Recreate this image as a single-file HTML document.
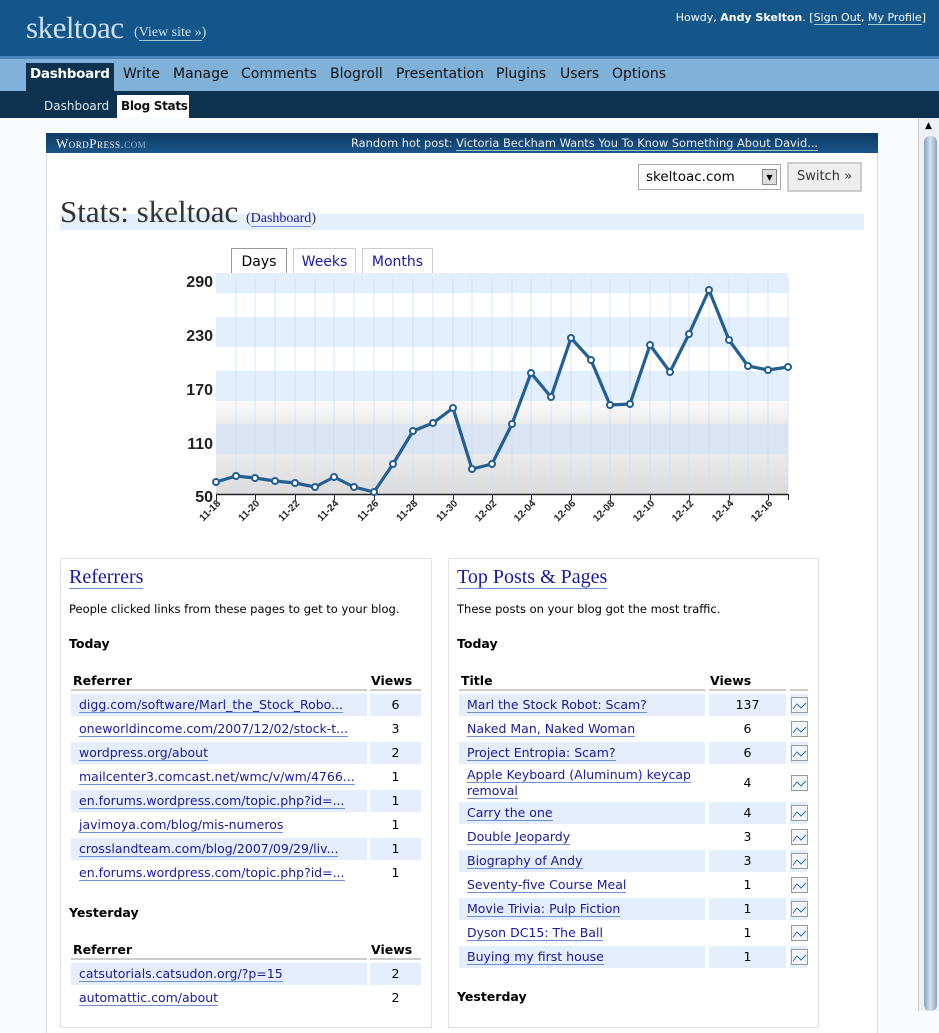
<!DOCTYPE html>
<html><head><meta charset="utf-8">
<style>
*{margin:0;padding:0;box-sizing:border-box}
body{width:939px;height:1011px;overflow:hidden;background:#f9fcfe;font-family:"DejaVu Sans","Liberation Sans",sans-serif;font-size:12px;color:#000;position:relative}
.a{position:absolute}
a,.lk{color:#1a1a9a;text-decoration:none;border-bottom:1px solid #6f8fd0}
.row{position:absolute;height:22px;line-height:22px;font-size:12.5px;white-space:nowrap}
.b{background:#e4eefd}
.nv{position:absolute;top:66px;font-size:14px;color:#111}
</style></head><body>
<!-- header -->
<div class="a" style="left:0;top:0;width:939px;height:56px;background:#14568a"></div>
<div class="a" style="left:0;top:56px;width:939px;height:3px;background:#4b87bd"></div>
<div class="a" style="left:0;top:59px;width:939px;height:32px;background:#80b2d9"></div>
<div class="a" style="left:0;top:91px;width:939px;height:27px;background:#0d324f"></div>
<div class="a" style="left:26px;top:10px;font-family:'Liberation Serif',serif;font-size:31px;color:#cfe1f2;letter-spacing:-0.5px">skeltoac</div>
<div class="a" style="left:134px;top:25px;font-family:'Liberation Serif',serif;font-size:14px;color:#cfe1f2">(<span style="border-bottom:1px solid #9cc">View site »</span>)</div>
<div class="a" style="right:13px;top:11px;font-size:11px;color:#fff">Howdy, <b>Andy Skelton</b>. [<span style="border-bottom:1px solid #9cc">Sign Out</span>, <span style="border-bottom:1px solid #9cc">My Profile</span>]</div>
<div class="a" style="left:26px;top:63px;width:88px;height:28px;background:#0d324f"></div>
<div class="a" style="left:30px;top:66px;font-size:13.5px;color:#fff;font-weight:bold;letter-spacing:-0.3px">Dashboard</div>
<div class="nv" style="left:123px">Write</div>
<div class="nv" style="left:173px">Manage</div>
<div class="nv" style="left:241px">Comments</div>
<div class="nv" style="left:330px">Blogroll</div>
<div class="nv" style="left:396px">Presentation</div>
<div class="nv" style="left:496px">Plugins</div>
<div class="nv" style="left:560px">Users</div>
<div class="nv" style="left:612px">Options</div>
<div class="a" style="left:117px;top:95px;width:72px;height:23px;background:#fff"></div>
<div class="a" style="left:44px;top:99px;font-size:12px;color:#ddeaf5">Dashboard</div>
<div class="a" style="left:121px;top:99px;font-size:12px;color:#111;font-weight:bold;letter-spacing:-0.3px">Blog Stats</div>
<!-- scrollbar -->
<div class="a" style="left:918px;top:118px;width:21px;height:893px;background:#eef0f3;border-left:1px solid #ccc"></div>
<div class="a" style="left:924px;top:136px;width:13px;height:875px;border-radius:6px;background:linear-gradient(90deg,#8aa2bd,#d7e3f0,#8aa2bd)"></div>
<div class="a" style="left:925px;top:121px;font-size:9px">▲</div>
<!-- content box -->
<div class="a" style="left:46px;top:133px;width:832px;height:900px;background:#fff;border-left:1px solid #ddd;border-right:1px solid #ddd"></div>
<div class="a" style="left:46px;top:133px;width:832px;height:20px;background:linear-gradient(#0f3a63,#1a5588)"></div>
<div class="a" style="left:56px;top:136px;font-family:'Liberation Serif',serif;font-size:13px;color:#fff;font-variant:small-caps;letter-spacing:0.5px">WordPress<span style="color:#8fb2d4">.com</span></div>
<div class="a" style="left:351px;top:136px;font-size:11.4px;color:#e8eef5;white-space:nowrap">Random hot post: <span style="border-bottom:1px solid #9cc">Victoria Beckham Wants You To Know Something About David...</span></div>
<div class="a" style="left:638px;top:164px;width:143px;height:26px;border:1px solid #aaa;background:#fff"></div>
<div class="a" style="left:646px;top:169px;font-size:13.5px">skeltoac.com</div>
<div class="a" style="left:762px;top:169px;width:15px;height:16px;background:#ddd;border:1px solid #888;font-size:8px;text-align:center;line-height:16px">▼</div>
<div class="a" style="left:787px;top:162px;width:75px;height:30px;border:2px solid #ccc;background:#eee;font-size:13px;text-align:center;line-height:26px;color:#333">Switch »</div>
<div class="a" style="left:60px;top:214px;width:804px;height:16px;background:#e4effb"></div>
<div class="a" style="left:60px;top:194px;font-family:'Liberation Serif',serif;font-size:31px;color:#333">Stats: skeltoac <span style="font-size:14px">(<span class="lk">Dashboard</span>)</span></div>
<!-- tabs -->
<div class="a" style="left:231px;top:248px;width:56px;height:26px;border:1px solid #999;border-bottom:none;background:#fff;font-size:14px;text-align:center;line-height:26px">Days</div>
<div class="a" style="left:293px;top:248px;width:63px;height:26px;border:1px solid #ccc;border-bottom:none;background:#fff;font-size:14px;text-align:center;line-height:26px;color:#1a1aa0">Weeks</div>
<div class="a" style="left:362px;top:248px;width:71px;height:26px;border:1px solid #ccc;border-bottom:none;background:#fff;font-size:14px;text-align:center;line-height:26px;color:#1a1aa0">Months</div>
<svg class="a" style="left:0;top:0" width="939" height="560">
<defs><linearGradient id="g1" x1="0" y1="0" x2="0" y2="1"><stop offset="0" stop-color="#fafafa"/><stop offset="1" stop-color="#ececec"/></linearGradient>
<linearGradient id="g2" x1="0" y1="0" x2="0" y2="1"><stop offset="0" stop-color="#eaeaea"/><stop offset="1" stop-color="#dcdcdc"/></linearGradient></defs>
<rect x="216" y="273" width="572" height="20" fill="#e3eefe"/>
<rect x="216" y="293" width="572" height="24" fill="#fff"/>
<rect x="216" y="317" width="572" height="30" fill="#e3eefe"/>
<rect x="216" y="347" width="572" height="24" fill="#fff"/>
<rect x="216" y="371" width="572" height="30" fill="#e3eefe"/>
<rect x="216" y="401" width="572" height="23" fill="url(#g1)"/>
<rect x="216" y="424" width="572" height="30" fill="#dbe4f2"/>
<rect x="216" y="454" width="572" height="40" fill="url(#g2)"/>
<g stroke="#cfe0f6" stroke-width="1" opacity="0.8">
<path d="M236 278V494M255 278V494M275 278V494M295 278V494M315 278V494M334 278V494M354 278V494M374 278V494M393 278V494M413 278V494M433 278V494M453 278V494M472 278V494M492 278V494M512 278V494M531 278V494M551 278V494M571 278V494M591 278V494M610 278V494M630 278V494M650 278V494M670 278V494M689 278V494M709 278V494M729 278V494M748 278V494M768 278V494M788 278V494"/></g>
<line x1="216" y1="494.5" x2="788" y2="494.5" stroke="#222" stroke-width="1.5"/>
<g stroke="#222" stroke-width="1"><path d="M216.5 494V500M255.5 494V500M295.5 494V500M334.5 494V500M374.5 494V500M413.5 494V500M453.5 494V500M492.5 494V500M531.5 494V500M571.5 494V500M610.5 494V500M650.5 494V500M689.5 494V500M729.5 494V500M768.5 494V500M788.5 494V500"/></g>
<g font-family="Liberation Sans,sans-serif" font-weight="bold" font-size="16" fill="#222" text-anchor="end">
<text x="213" y="287">290</text><text x="213" y="341">230</text><text x="213" y="395">170</text><text x="213" y="449">110</text><text x="213" y="502">50</text></g>
<g font-family="Liberation Sans,sans-serif" font-weight="bold" font-size="10" fill="#222" text-anchor="end">
<text transform="translate(221,504) rotate(-45)">11-18</text><text transform="translate(260,504) rotate(-45)">11-20</text><text transform="translate(300,504) rotate(-45)">11-22</text><text transform="translate(339,504) rotate(-45)">11-24</text><text transform="translate(379,504) rotate(-45)">11-26</text><text transform="translate(418,504) rotate(-45)">11-28</text><text transform="translate(458,504) rotate(-45)">11-30</text><text transform="translate(497,504) rotate(-45)">12-02</text><text transform="translate(536,504) rotate(-45)">12-04</text><text transform="translate(576,504) rotate(-45)">12-06</text><text transform="translate(615,504) rotate(-45)">12-08</text><text transform="translate(655,504) rotate(-45)">12-10</text><text transform="translate(694,504) rotate(-45)">12-12</text><text transform="translate(734,504) rotate(-45)">12-14</text><text transform="translate(773,504) rotate(-45)">12-16</text></g>
<polyline fill="none" stroke="#235f94" stroke-width="3.2" stroke-linejoin="round" points="216,482 236,476 255,478 275,481 295,483 315,487 334,477 354,487 374,492 393,464 413,431 433,423 453,408 472,469 492,464 512,424 531,373 551,397 571,338 591,360 610,405 630,404 650,345 670,372 689,334 709,290 729,340 748,366 768,370 788,367"/>
<g fill="#fff" stroke="#235f94" stroke-width="2"><circle cx="216" cy="482" r="3"/><circle cx="236" cy="476" r="3"/><circle cx="255" cy="478" r="3"/><circle cx="275" cy="481" r="3"/><circle cx="295" cy="483" r="3"/><circle cx="315" cy="487" r="3"/><circle cx="334" cy="477" r="3"/><circle cx="354" cy="487" r="3"/><circle cx="374" cy="492" r="3"/><circle cx="393" cy="464" r="3"/><circle cx="413" cy="431" r="3"/><circle cx="433" cy="423" r="3"/><circle cx="453" cy="408" r="3"/><circle cx="472" cy="469" r="3"/><circle cx="492" cy="464" r="3"/><circle cx="512" cy="424" r="3"/><circle cx="531" cy="373" r="3"/><circle cx="551" cy="397" r="3"/><circle cx="571" cy="338" r="3"/><circle cx="591" cy="360" r="3"/><circle cx="610" cy="405" r="3"/><circle cx="630" cy="404" r="3"/><circle cx="650" cy="345" r="3"/><circle cx="670" cy="372" r="3"/><circle cx="689" cy="334" r="3"/><circle cx="709" cy="290" r="3"/><circle cx="729" cy="340" r="3"/><circle cx="748" cy="366" r="3"/><circle cx="768" cy="370" r="3"/><circle cx="788" cy="367" r="3"/></g>
</svg>
<!-- panels -->
<div class="a" style="left:60px;top:558px;width:372px;height:470px;border:1px solid #e3e3e3"></div>
<div class="a" style="left:448px;top:558px;width:371px;height:470px;border:1px solid #e3e3e3"></div>
<div class="a" style="left:69px;top:566px;font-family:'Liberation Serif',serif;font-size:20px"><span class="lk" style="color:#1a1aa0">Referrers</span></div>
<div class="a" style="left:457px;top:566px;font-family:'Liberation Serif',serif;font-size:20px"><span class="lk" style="color:#1a1aa0">Top Posts &amp; Pages</span></div>
<div class="a" style="left:69px;top:602px;font-size:11.5px;white-space:nowrap">People clicked links from these pages to get to your blog.</div>
<div class="a" style="left:457px;top:602px;font-size:11.5px">These posts on your blog got the most traffic.</div>
<div class="a" style="left:69px;top:636px;font-size:12.5px;font-weight:bold">Today</div>
<div class="a" style="left:457px;top:636px;font-size:12.5px;font-weight:bold">Today</div>
<!-- referrers header -->
<div class="a" style="left:73px;top:673px;font-weight:bold;font-size:12.5px">Referrer</div><div class="a" style="left:371px;top:673px;font-weight:bold;font-size:12.5px">Views</div>
<div class="a" style="left:71px;top:689px;width:296px;height:2px;background:#ccc"></div><div class="a" style="left:370px;top:689px;width:51px;height:2px;background:#ccc"></div>
<div class="row b" style="left:71px;top:694px;width:296px;padding-left:8px"><a>digg.com/software/Marl_the_Stock_Robo...</a></div><div class="row b" style="left:370px;top:694px;width:51px;text-align:center">6</div>
<div class="row" style="left:71px;top:718px;width:296px;padding-left:8px"><a>oneworldincome.com/2007/12/02/stock-t...</a></div><div class="row" style="left:370px;top:718px;width:51px;text-align:center">3</div>
<div class="row b" style="left:71px;top:742px;width:296px;padding-left:8px"><a>wordpress.org/about</a></div><div class="row b" style="left:370px;top:742px;width:51px;text-align:center">2</div>
<div class="row" style="left:71px;top:766px;width:296px;padding-left:8px"><a>mailcenter3.comcast.net/wmc/v/wm/4766...</a></div><div class="row" style="left:370px;top:766px;width:51px;text-align:center">1</div>
<div class="row b" style="left:71px;top:790px;width:296px;padding-left:8px"><a>en.forums.wordpress.com/topic.php?id=...</a></div><div class="row b" style="left:370px;top:790px;width:51px;text-align:center">1</div>
<div class="row" style="left:71px;top:814px;width:296px;padding-left:8px"><a>javimoya.com/blog/mis-numeros</a></div><div class="row" style="left:370px;top:814px;width:51px;text-align:center">1</div>
<div class="row b" style="left:71px;top:838px;width:296px;padding-left:8px"><a>crosslandteam.com/blog/2007/09/29/liv...</a></div><div class="row b" style="left:370px;top:838px;width:51px;text-align:center">1</div>
<div class="row" style="left:71px;top:862px;width:296px;padding-left:8px"><a>en.forums.wordpress.com/topic.php?id=...</a></div><div class="row" style="left:370px;top:862px;width:51px;text-align:center">1</div>
<div class="a" style="left:69px;top:905px;font-weight:bold;font-size:12.5px">Yesterday</div>
<div class="a" style="left:73px;top:942px;font-weight:bold;font-size:12.5px">Referrer</div><div class="a" style="left:371px;top:942px;font-weight:bold;font-size:12.5px">Views</div>
<div class="a" style="left:71px;top:958px;width:296px;height:2px;background:#ccc"></div><div class="a" style="left:370px;top:958px;width:51px;height:2px;background:#ccc"></div>
<div class="row b" style="left:71px;top:963px;width:296px;padding-left:8px"><a>catsutorials.catsudon.org/?p=15</a></div><div class="row b" style="left:370px;top:963px;width:51px;text-align:center">2</div>
<div class="row" style="left:71px;top:987px;width:296px;padding-left:8px"><a>automattic.com/about</a></div><div class="row" style="left:370px;top:987px;width:51px;text-align:center">2</div>
<!-- posts -->
<div class="a" style="left:461px;top:673px;font-weight:bold;font-size:12.5px">Title</div><div class="a" style="left:710px;top:673px;font-weight:bold;font-size:12.5px">Views</div>
<div class="a" style="left:459px;top:689px;width:246px;height:2px;background:#ccc"></div><div class="a" style="left:709px;top:689px;width:77px;height:2px;background:#ccc"></div><div class="a" style="left:790px;top:689px;width:18px;height:2px;background:#ccc"></div>
<div class="row b" style="left:459px;top:694px;width:246px;padding-left:8px"><a>Marl the Stock Robot: Scam?</a></div><div class="row b" style="left:709px;top:694px;width:77px;text-align:center">137</div><div class="row b" style="left:790px;top:694px;width:18px"></div>
<div class="row" style="left:459px;top:718px;width:246px;padding-left:8px"><a>Naked Man, Naked Woman</a></div><div class="row" style="left:709px;top:718px;width:77px;text-align:center">6</div>
<div class="row b" style="left:459px;top:742px;width:246px;padding-left:8px"><a>Project Entropia: Scam?</a></div><div class="row b" style="left:709px;top:742px;width:77px;text-align:center">6</div><div class="row b" style="left:790px;top:742px;width:18px"></div>
<div class="row" style="left:459px;top:766px;width:246px;height:34px;padding-left:8px;line-height:16px;white-space:normal;padding-top:1px"><a>Apple Keyboard (Aluminum) keycap</a><br><a>removal</a></div><div class="row" style="left:709px;top:772px;width:77px;text-align:center">4</div>
<div class="row b" style="left:459px;top:802px;width:246px;padding-left:8px"><a>Carry the one</a></div><div class="row b" style="left:709px;top:802px;width:77px;text-align:center">4</div><div class="row b" style="left:790px;top:802px;width:18px"></div>
<div class="row" style="left:459px;top:826px;width:246px;padding-left:8px"><a>Double Jeopardy</a></div><div class="row" style="left:709px;top:826px;width:77px;text-align:center">3</div>
<div class="row b" style="left:459px;top:850px;width:246px;padding-left:8px"><a>Biography of Andy</a></div><div class="row b" style="left:709px;top:850px;width:77px;text-align:center">3</div><div class="row b" style="left:790px;top:850px;width:18px"></div>
<div class="row" style="left:459px;top:874px;width:246px;padding-left:8px"><a>Seventy-five Course Meal</a></div><div class="row" style="left:709px;top:874px;width:77px;text-align:center">1</div>
<div class="row b" style="left:459px;top:898px;width:246px;padding-left:8px"><a>Movie Trivia: Pulp Fiction</a></div><div class="row b" style="left:709px;top:898px;width:77px;text-align:center">1</div><div class="row b" style="left:790px;top:898px;width:18px"></div>
<div class="row" style="left:459px;top:922px;width:246px;padding-left:8px"><a>Dyson DC15: The Ball</a></div><div class="row" style="left:709px;top:922px;width:77px;text-align:center">1</div>
<div class="row b" style="left:459px;top:946px;width:246px;padding-left:8px"><a>Buying my first house</a></div><div class="row b" style="left:709px;top:946px;width:77px;text-align:center">1</div><div class="row b" style="left:790px;top:946px;width:18px"></div>
<svg class="a" style="left:791px;top:0" width="17" height="1011">
<g fill="#f2f5fa" stroke="#9a9a9a"><rect x="0.5" y="697.5" width="16" height="15"/><rect x="0.5" y="721.5" width="16" height="15"/><rect x="0.5" y="745.5" width="16" height="15"/><rect x="0.5" y="775.5" width="16" height="15"/><rect x="0.5" y="805.5" width="16" height="15"/><rect x="0.5" y="829.5" width="16" height="15"/><rect x="0.5" y="853.5" width="16" height="15"/><rect x="0.5" y="877.5" width="16" height="15"/><rect x="0.5" y="901.5" width="16" height="15"/><rect x="0.5" y="925.5" width="16" height="15"/><rect x="0.5" y="949.5" width="16" height="15"/></g>
<g fill="none" stroke="#3a6db0" stroke-width="1"><path d="M2 709l4-5 4 4 5-5"/><path d="M2 733l4-5 4 4 5-5"/><path d="M2 757l4-5 4 4 5-5"/><path d="M2 787l4-5 4 4 5-5"/><path d="M2 817l4-5 4 4 5-5"/><path d="M2 841l4-5 4 4 5-5"/><path d="M2 865l4-5 4 4 5-5"/><path d="M2 889l4-5 4 4 5-5"/><path d="M2 913l4-5 4 4 5-5"/><path d="M2 937l4-5 4 4 5-5"/><path d="M2 961l4-5 4 4 5-5"/></g>
</svg>
<div class="a" style="left:457px;top:989px;font-weight:bold;font-size:12.5px">Yesterday</div>
</body></html>
